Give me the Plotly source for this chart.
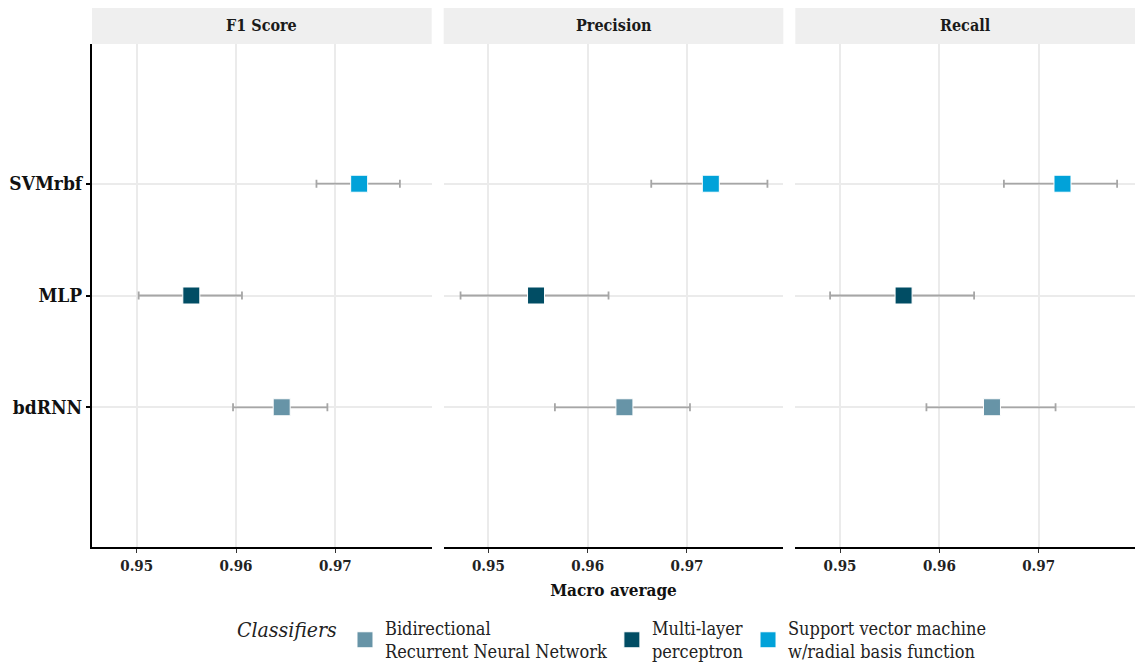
import plotly.graph_objects as go
from plotly.subplots import make_subplots

metrics = ["F1 Score", "Precision", "Recall"]
classifiers = ["bdRNN", "MLP", "SVMrbf"]
legend_names = ["Bidirectional<br>Recurrent Neural Network",
                "Multi-layer<br>perceptron",
                "Support vector machine<br>w/radial basis function"]
colors = ["#6794A7", "#014D64", "#01A2D9"]

# mean, lower, upper per metric, ordered as classifiers
means = {
    "F1 Score":  [0.9646, 0.9555, 0.9724],
    "Precision": [0.9637, 0.9548, 0.9724],
    "Recall":    [0.9653, 0.9564, 0.9724],
}
lower = {
    "F1 Score":  [0.9597, 0.9502, 0.9681],
    "Precision": [0.9567, 0.9472, 0.9664],
    "Recall":    [0.9587, 0.9490, 0.9665],
}
upper = {
    "F1 Score":  [0.9692, 0.9606, 0.9765],
    "Precision": [0.9703, 0.9621, 0.9781],
    "Recall":    [0.9717, 0.9635, 0.9779],
}
x_ticks = [0.95, 0.96, 0.97]

FONT = "DejaVu Serif Condensed, DejaVu Serif, serif"

fig = make_subplots(rows=1, cols=3, shared_yaxes=True, horizontal_spacing=0.0115)

for j, m in enumerate(metrics):
    for i, c in enumerate(classifiers):
        fig.add_trace(go.Scatter(
            x=[means[m][i]], y=[i + 1],
            mode="markers",
            name=legend_names[i],
            legendgroup=c,
            showlegend=(j == 0),
            marker=dict(symbol="square", size=17, color=colors[i],
                        line=dict(color="white", width=1)),
            error_x=dict(type="data", symmetric=False,
                         array=[upper[m][i] - means[m][i]],
                         arrayminus=[means[m][i] - lower[m][i]],
                         color="#A6A6A6", thickness=1.8, width=4),
        ), row=1, col=j + 1)

strip_h = 36 / 503
for j, m in enumerate(metrics):
    xa = "x" if j == 0 else f"x{j+1}"
    fig.add_shape(type="rect", xref=f"{xa} domain", yref="paper",
                  x0=0, x1=1, y0=1, y1=1 + strip_h,
                  fillcolor="#EFEFEF", line=dict(width=0), layer="below")
    fig.add_annotation(xref=f"{xa} domain", yref="paper", x=0.5, y=1 + strip_h / 2,
                       yanchor="middle", xanchor="center",
                       text=f"<b>{m}</b>", showarrow=False,
                       font=dict(family=FONT, size=16, color="#1a1a1a"))

for j in range(3):
    fig.update_xaxes(row=1, col=j + 1, range=[0.9455, 0.9797],
                     tickvals=x_ticks, ticktext=[f"<b>{t:.2f}</b>" for t in x_ticks],
                     showgrid=True, gridcolor="#EBEBEB", gridwidth=1.5,
                     showline=True, linecolor="black", linewidth=2,
                     ticks="outside", ticklen=4, tickcolor="#333", tickwidth=1,
                     zeroline=False, automargin=False,
                     tickfont=dict(family=FONT, size=15, color="#222"))
fig.update_xaxes(row=1, col=2, title=dict(text="<b>Macro average</b>",
                 font=dict(family=FONT, size=17, color="#111"), standoff=10))

fig.update_yaxes(range=[-0.25, 4.25], tickvals=[1, 2, 3],
                 ticktext=[f"<b>{c}</b>" for c in classifiers],
                 showgrid=True, gridcolor="#EBEBEB", gridwidth=1.5,
                 zeroline=False, showline=False, automargin=False)
fig.update_yaxes(row=1, col=1, showline=True, linecolor="black", linewidth=2,
                 ticks="outside", ticklen=4, tickcolor="black", tickwidth=1.5,
                 tickfont=dict(family=FONT, size=19, color="#111"))

fig.update_layout(
    width=1135, height=667,
    margin=dict(l=92, r=0, t=44, b=120, autoexpand=False),
    plot_bgcolor="white", paper_bgcolor="white",
    font=dict(family=FONT, color="#222"),
    legend=dict(orientation="h", x=0.5, xanchor="center", y=-0.125, yanchor="top",
                title=dict(text="<i>Classifiers</i>", font=dict(family=FONT, size=21)),
                font=dict(family=FONT, size=18, color="#222"),
                itemsizing="trace", tracegroupgap=0),
)

fig.write_html("out.html", config={"displayModeBar": False},
               post_script="document.body.style.margin='0';document.body.style.overflow='hidden';")
